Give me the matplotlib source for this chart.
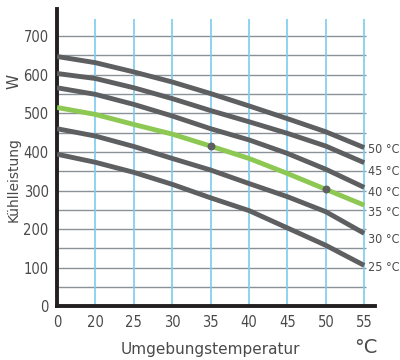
import matplotlib
matplotlib.use("Agg")
import matplotlib.pyplot as plt
from matplotlib import font_manager

# Umgebungstemperatur (categorical, evenly spaced)
temps = ["0", "20", "25", "30", "35", "40", "45", "50", "55"]

# Kühlleistung (W) per Raumtemperatur
curve_50 = [647, 631, 607, 581, 551, 519, 486, 452, 411]
curve_45 = [603, 590, 566, 538, 507, 478, 448, 415, 372]
curve_40 = [566, 549, 523, 493, 460, 431, 396, 355, 308]
curve_35 = [515, 497, 471, 446, 415, 383, 344, 303, 262]
curve_30 = [460, 441, 414, 383, 353, 318, 284, 245, 189]
curve_25 = [394, 373, 347, 316, 281, 248, 203, 158, 106]

curves = [curve_50, curve_45, curve_40, curve_35, curve_30, curve_25]
curve_names = ["50 °C", "45 °C", "40 °C", "35 °C", "30 °C", "25 °C"]
label_y = [405, 350, 296, 242, 172, 100]

# marked points on the 35 °C curve
dot_idx = [4, 7]

yticks = [0, 100, 200, 300, 400, 500, 600, 700]

gray_line = "#5e5f61"
green_line = "#8cc852"
text_col = "#4a4a4a"

fp = font_manager.FontProperties(family="DejaVu Sans", stretch="condensed", size=10.5)
fp_lab = font_manager.FontProperties(family="DejaVu Sans", stretch="condensed", size=9)

fig = plt.figure(figsize=(4, 3.6), dpi=100)
ax = fig.add_axes([0.1425, 0.149, 0.795, 0.826])

x = list(range(len(temps)))

# grid
for v in range(50, 701, 50):
    ax.hlines(v, 0, 8.05, color="#8a9197", lw=1.0, zorder=1)
ax.vlines(x[1:], 0, 745, color="#7ccbef", lw=1.2, zorder=1)

for vals, name in zip(curves, curve_names):
    col = green_line if name == "35 °C" else gray_line
    ax.plot(x, vals, color=col, lw=3.5, solid_capstyle="butt", zorder=3)

ax.scatter([x[i] for i in dot_idx], [curve_35[i] for i in dot_idx],
           s=22, color=gray_line, zorder=4)

for name, ly in zip(curve_names, label_y):
    ax.text(8.11, ly, name, color=text_col, fontproperties=fp_lab, va="center",
            ha="left", clip_on=False)

ax.set_xlim(0, 8.28)
ax.set_ylim(0, 770)
ax.set_xticks(x)
ax.set_xticklabels(temps, fontproperties=fp)
ax.set_yticks(yticks)
ax.set_yticklabels([str(v) for v in yticks], fontproperties=fp)
ax.tick_params(length=0, labelcolor=text_col, pad=6)

for s in ["top", "right"]:
    ax.spines[s].set_visible(False)
for s in ["left", "bottom"]:
    ax.spines[s].set_color("#231f20")
    ax.spines[s].set_linewidth(2.8)

fig.text(0.035, 0.775, "W", rotation=90, color=text_col, fontsize=11,
         ha="center", va="center")
fig.text(0.035, 0.5, "Kühlleistung", rotation=90, color=text_col, fontsize=10,
         ha="center", va="center")
fig.text(0.525, 0.03, "Umgebungstemperatur", color=text_col, fontsize=11,
         ha="center", va="center")
fig.text(0.915, 0.035, "°C", color=text_col, fontsize=14,
         ha="center", va="center")

fig.savefig("out.png", dpi=100)
